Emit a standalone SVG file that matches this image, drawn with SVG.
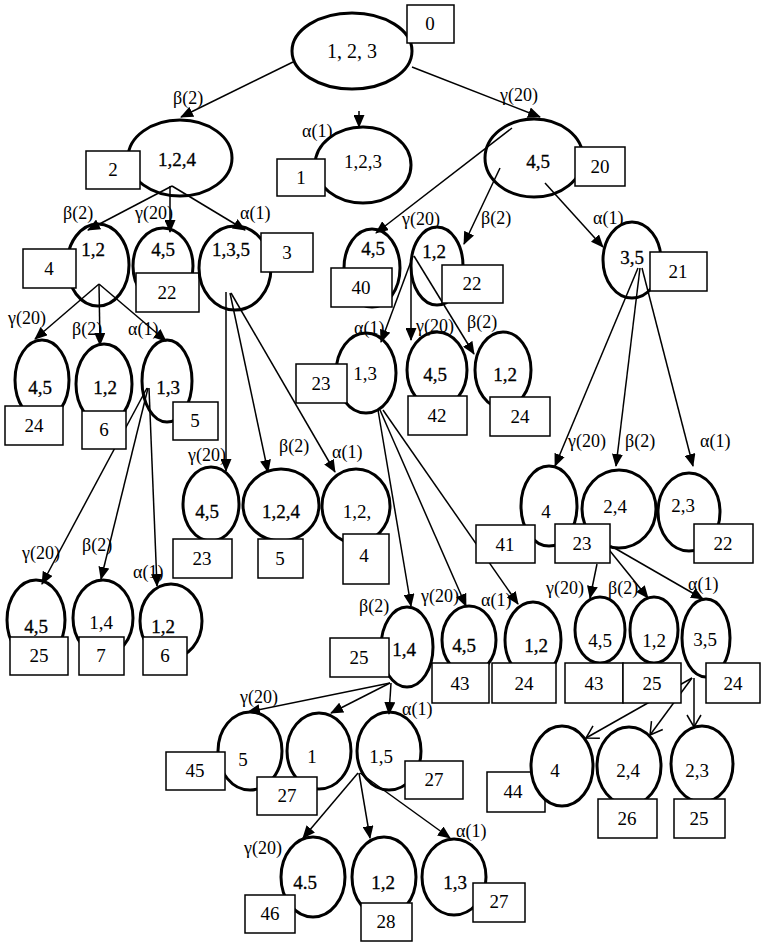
<svg xmlns="http://www.w3.org/2000/svg" width="762" height="942" viewBox="0 0 762 942">
<style>
.n{fill:none;stroke:#000;stroke-width:3}
.b{fill:#fff;stroke:#000;stroke-width:1.5}
.t{font-family:"Liberation Serif","Times New Roman","DejaVu Serif",serif;font-size:19px;text-anchor:middle;fill:#000}
.k{stroke:#000;stroke-width:0.3}
.bt{font-family:"Liberation Serif","Times New Roman","DejaVu Serif",serif;font-size:19px;text-anchor:middle;fill:#000}
.l{font-family:"Liberation Serif","Times New Roman","DejaVu Serif",serif;font-size:18px;fill:#000}
.c{stroke:#000;stroke-width:1.5;fill:none;marker-end:url(#ah)}
.o{stroke:#000;stroke-width:1.5;fill:none;marker-end:url(#oh)}
</style>
<defs>
<marker id="ah" markerUnits="userSpaceOnUse" markerWidth="13" markerHeight="11" refX="12" refY="5.5" orient="auto"><path d="M0,0 L13,5.5 L0,11 z" fill="#000"/></marker>
<marker id="oh" markerUnits="userSpaceOnUse" markerWidth="16" markerHeight="16" refX="13" refY="8" orient="auto"><path d="M1,1 L13,8 L1,15" fill="none" stroke="#000" stroke-width="1.5"/></marker>
</defs>
<rect width="762" height="942" fill="#fff"/>
<g id="connectors">
<line class="c" x1="293" y1="62" x2="181" y2="117"/><text class="l" x="173" y="104">β(2)</text>
<line class="c" x1="412" y1="67" x2="540" y2="117"/><text class="l" x="500" y="101">γ(20)</text>
<line class="c" x1="359" y1="111" x2="359" y2="127"/><text class="l" x="302" y="137">α(1)</text>
<line class="c" x1="172" y1="186" x2="88" y2="230"/><text class="l" x="63" y="219">β(2)</text>
<line class="c" x1="170" y1="186" x2="170" y2="232"/><text class="l" x="135" y="219">γ(20)</text>
<line class="c" x1="172" y1="186" x2="245" y2="230"/><text class="l" x="240" y="219">α(1)</text>
<line class="c" x1="512" y1="128" x2="376" y2="233"/><text class="l" x="402" y="225">γ(20)</text>
<line class="c" x1="500" y1="168" x2="464" y2="244"/><text class="l" x="481" y="224">β(2)</text>
<line class="c" x1="545" y1="183" x2="603" y2="247"/><text class="l" x="593" y="224">α(1)</text>
<line class="c" x1="99" y1="284" x2="35" y2="339"/><text class="l" x="8" y="324">γ(20)</text>
<line class="c" x1="99" y1="284" x2="100" y2="345"/><text class="l" x="72" y="335">β(2)</text>
<line class="c" x1="99" y1="284" x2="166" y2="341"/><text class="l" x="128" y="335">α(1)</text>
<line class="c" x1="226" y1="292" x2="226" y2="471"/><text class="l" x="188" y="461">γ(20)</text>
<line class="c" x1="230" y1="293" x2="268" y2="472"/><text class="l" x="279" y="452">β(2)</text>
<line class="c" x1="231" y1="293" x2="335" y2="472"/><text class="l" x="332" y="458">α(1)</text>
<line class="c" x1="413" y1="256" x2="381" y2="342"/><text class="l" x="354" y="334">α(1)</text>
<line class="c" x1="411" y1="258" x2="411" y2="340"/><text class="l" x="416" y="332">γ(20)</text>
<line class="c" x1="414" y1="256" x2="474" y2="354"/><text class="l" x="467" y="328">β(2)</text>
<line class="c" x1="638" y1="268" x2="555" y2="466"/><text class="l" x="568" y="447">γ(20)</text>
<line class="c" x1="640" y1="268" x2="616" y2="466"/><text class="l" x="625" y="447">β(2)</text>
<line class="c" x1="642" y1="268" x2="693" y2="466"/><text class="l" x="700" y="447">α(1)</text>
<line class="c" x1="147" y1="388" x2="42" y2="584"/><text class="l" x="22" y="559">γ(20)</text>
<line class="c" x1="148" y1="388" x2="101" y2="579"/><text class="l" x="82" y="551">β(2)</text>
<line class="c" x1="149" y1="388" x2="157" y2="586"/><text class="l" x="133" y="578">α(1)</text>
<line class="c" x1="378" y1="410" x2="411" y2="606"/><text class="l" x="359" y="612">β(2)</text>
<line class="c" x1="380" y1="410" x2="466" y2="606"/><text class="l" x="421" y="602">γ(20)</text>
<line class="c" x1="383" y1="410" x2="518" y2="604"/><text class="l" x="481" y="606">α(1)</text>
<line class="c" x1="597" y1="564" x2="590" y2="598"/><text class="l" x="546" y="594">γ(20)</text>
<line class="c" x1="606" y1="546" x2="648" y2="598"/><text class="l" x="608" y="594">β(2)</text>
<line class="c" x1="611" y1="546" x2="703" y2="599"/><text class="l" x="688" y="590">α(1)</text>
<line class="o" x1="692" y1="678" x2="586" y2="738"/>
<line class="o" x1="692" y1="678" x2="650" y2="735"/>
<line class="o" x1="694" y1="678" x2="694" y2="727"/>
<line class="c" x1="390" y1="683" x2="248" y2="712"/><text class="l" x="240" y="703">γ(20)</text>
<line class="c" x1="390" y1="683" x2="331" y2="713"/>
<line class="c" x1="391" y1="683" x2="389" y2="714"/><text class="l" x="402" y="715">α(1)</text>
<line class="c" x1="358" y1="773" x2="303" y2="838"/><text class="l" x="244" y="854">γ(20)</text>
<line class="c" x1="359" y1="773" x2="370" y2="838"/>
<line class="c" x1="360" y1="773" x2="450" y2="838"/><text class="l" x="456" y="837">α(1)</text>
</g>
<g id="n0"><ellipse class="n" cx="352" cy="51" rx="60" ry="38"/><text class="t" style="font-size:20px" x="352" y="58">1, 2, 3</text><rect class="b" x="407" y="5" width="47" height="38"/><text class="bt" x="430" y="30">0</text></g>
<g id="n1"><ellipse class="n" cx="180" cy="158" rx="52" ry="38"/><text class="t k" x="177" y="166">1,2,4</text><rect class="b" x="86" y="151" width="54" height="38"/><text class="bt" x="113" y="176">2</text></g>
<g id="n2"><ellipse class="n" cx="363" cy="165" rx="48" ry="38"/><text class="t" x="363" y="168">1,2,3</text><rect class="b" x="277" y="159" width="48" height="37"/><text class="bt" x="301" y="184">1</text></g>
<g id="n3"><ellipse class="n" cx="534" cy="158" rx="49" ry="39"/><text class="t k" x="538" y="168">4,5</text><rect class="b" x="575" y="147" width="50" height="39"/><text class="bt" x="600" y="173">20</text></g>
<g id="n4"><ellipse class="n" cx="98" cy="265" rx="31" ry="41"/><text class="t k" x="93" y="256">1,2</text><rect class="b" x="23" y="249" width="53" height="39"/><text class="bt" x="49" y="275">4</text></g>
<g id="n5"><ellipse class="n" cx="163" cy="266" rx="30" ry="38"/><text class="t k" x="163" y="256">4,5</text><rect class="b" x="136" y="273" width="63" height="39"/><text class="bt" x="167" y="299">22</text></g>
<g id="n6"><ellipse class="n" cx="235" cy="268" rx="36" ry="42"/><text class="t k" x="231" y="256">1,3,5</text><rect class="b" x="261" y="233" width="52" height="39"/><text class="bt" x="287" y="259">3</text></g>
<g id="n7"><ellipse class="n" cx="372" cy="268" rx="28" ry="39"/><text class="t k" x="373" y="255">4,5</text><rect class="b" x="331" y="268" width="61" height="39"/><text class="bt" x="361" y="294">40</text></g>
<g id="n8"><ellipse class="n" cx="437" cy="266" rx="26" ry="39"/><text class="t k" x="434" y="258">1,2</text><rect class="b" x="442" y="265" width="61" height="38"/><text class="bt" x="472" y="290">22</text></g>
<g id="n9"><ellipse class="n" cx="632" cy="260" rx="29" ry="38"/><text class="t k" x="632" y="264">3,5</text><rect class="b" x="650" y="252" width="57" height="39"/><text class="bt" x="678" y="278">21</text></g>
<g id="n10"><ellipse class="n" cx="42" cy="380" rx="27" ry="40"/><text class="t k" x="40" y="394">4,5</text><rect class="b" x="5" y="406" width="58" height="39"/><text class="bt" x="34" y="432">24</text></g>
<g id="n11"><ellipse class="n" cx="104" cy="384" rx="28" ry="40"/><text class="t k" x="105" y="394">1,2</text><rect class="b" x="82" y="411" width="44" height="38"/><text class="bt" x="104" y="436">6</text></g>
<g id="n12"><ellipse class="n" cx="167" cy="381" rx="25" ry="41"/><text class="t k" x="168" y="394">1,3</text><rect class="b" x="173" y="402" width="45" height="38"/><text class="bt" x="195" y="427">5</text></g>
<g id="n13"><ellipse class="n" cx="366" cy="373" rx="30" ry="40"/><text class="t" x="365" y="380">1,3</text><rect class="b" x="296" y="364" width="51" height="39"/><text class="bt" x="321" y="390">23</text></g>
<g id="n14"><ellipse class="n" cx="437" cy="370" rx="30" ry="38"/><text class="t k" x="435" y="381">4,5</text><rect class="b" x="408" y="396" width="59" height="39"/><text class="bt" x="437" y="422">42</text></g>
<g id="n15"><ellipse class="n" cx="503" cy="370" rx="28" ry="38"/><text class="t k" x="505" y="381">1,2</text><rect class="b" x="490" y="397" width="60" height="39"/><text class="bt" x="520" y="423">24</text></g>
<g id="n16"><ellipse class="n" cx="211" cy="504" rx="28" ry="37"/><text class="t k" x="207" y="518">4,5</text><rect class="b" x="173" y="539" width="59" height="39"/><text class="bt" x="202" y="565">23</text></g>
<g id="n17"><ellipse class="n" cx="281" cy="505" rx="38" ry="36"/><text class="t k" x="281" y="518">1,2,4</text><rect class="b" x="258" y="539" width="45" height="39"/><text class="bt" x="280" y="565">5</text></g>
<g id="n18"><ellipse class="n" cx="356" cy="506" rx="34" ry="37"/><text class="t" x="357" y="518">1,2,</text><rect class="b" x="343" y="534" width="46" height="50"/><text class="bt" x="364" y="562">4</text></g>
<g id="n19"><ellipse class="n" cx="549" cy="506" rx="28" ry="40"/><text class="t" x="546" y="518">4</text><rect class="b" x="476" y="525" width="59" height="38"/><text class="bt" x="505" y="551">41</text></g>
<g id="n20"><ellipse class="n" cx="619" cy="509" rx="37" ry="39"/><text class="t" x="615" y="513">2,4</text><rect class="b" x="555" y="524" width="55" height="39"/><text class="bt" x="582" y="550">23</text></g>
<g id="n21"><ellipse class="n" cx="689" cy="512" rx="31" ry="39"/><text class="t" x="683" y="512">2,3</text><rect class="b" x="694" y="524" width="59" height="39"/><text class="bt" x="723" y="550">22</text></g>
<g id="n22"><ellipse class="n" cx="36" cy="620" rx="29" ry="40"/><text class="t k" x="36" y="633">4,5</text><rect class="b" x="10" y="637" width="58" height="38"/><text class="bt" x="39" y="662">25</text></g>
<g id="n23"><ellipse class="n" cx="103" cy="618" rx="30" ry="38"/><text class="t" x="101" y="629">1,4</text><rect class="b" x="79" y="637" width="45" height="38"/><text class="bt" x="101" y="662">7</text></g>
<g id="n24"><ellipse class="n" cx="171" cy="621" rx="31" ry="37"/><text class="t k" x="163" y="633">1,2</text><rect class="b" x="143" y="637" width="44" height="38"/><text class="bt" x="165" y="662">6</text></g>
<g id="n25"><ellipse class="n" cx="407" cy="647" rx="26" ry="40"/><text class="t k" x="404" y="656">1,4</text><rect class="b" x="330" y="638" width="59" height="39"/><text class="bt" x="359" y="664">25</text></g>
<g id="n26"><ellipse class="n" cx="469" cy="640" rx="27" ry="34"/><text class="t k" x="464" y="652">4,5</text><rect class="b" x="432" y="663" width="57" height="40"/><text class="bt" x="460" y="690">43</text></g>
<g id="n27"><ellipse class="n" cx="533" cy="640" rx="28" ry="38"/><text class="t k" x="536" y="652">1,2</text><rect class="b" x="492" y="663" width="64" height="40"/><text class="bt" x="524" y="690">24</text></g>
<g id="n28"><ellipse class="n" cx="600" cy="630" rx="25" ry="33"/><text class="t" x="600" y="647">4,5</text><rect class="b" x="565" y="663" width="58" height="40"/><text class="bt" x="594" y="690">43</text></g>
<g id="n29"><ellipse class="n" cx="654" cy="630" rx="24" ry="33"/><text class="t" x="654" y="647">1,2</text><rect class="b" x="623" y="663" width="58" height="40"/><text class="bt" x="652" y="690">25</text></g>
<g id="n30"><ellipse class="n" cx="706" cy="638" rx="24" ry="39"/><text class="t" x="705" y="646">3,5</text><rect class="b" x="706" y="663" width="54" height="40"/><text class="bt" x="733" y="690">24</text></g>
<g id="n31"><ellipse class="n" cx="250" cy="751" rx="32" ry="39"/><text class="t" x="243" y="766">5</text><rect class="b" x="166" y="752" width="59" height="38"/><text class="bt" x="195" y="777">45</text></g>
<g id="n32"><ellipse class="n" cx="319" cy="751" rx="32" ry="38"/><text class="t" x="312" y="763">1</text><rect class="b" x="257" y="777" width="60" height="38"/><text class="bt" x="287" y="802">27</text></g>
<g id="n33"><ellipse class="n" cx="389" cy="751" rx="32" ry="39"/><text class="t" x="381" y="763">1,5</text><rect class="b" x="405" y="761" width="58" height="38"/><text class="bt" x="434" y="786">27</text></g>
<g id="n34"><rect class="b" x="487" y="772" width="58" height="40"/><text class="bt" x="513" y="798">44</text><ellipse cx="562" cy="766" rx="31" ry="40" fill="#fff" stroke="none"/><ellipse class="n" cx="562" cy="766" rx="31" ry="40"/><text class="t" x="555" y="777">4</text></g>
<g id="n35"><ellipse class="n" cx="629" cy="766" rx="32" ry="39"/><text class="t" x="628" y="777">2,4</text><rect class="b" x="598" y="799" width="59" height="39"/><text class="bt" x="627" y="825">26</text></g>
<g id="n36"><ellipse class="n" cx="702" cy="764" rx="31" ry="38"/><text class="t" x="697" y="777">2,3</text><rect class="b" x="674" y="799" width="51" height="39"/><text class="bt" x="699" y="825">25</text></g>
<g id="n37"><ellipse class="n" cx="313" cy="877" rx="32" ry="40"/><text class="t k" x="305" y="889">4.5</text><rect class="b" x="245" y="895" width="50" height="38"/><text class="bt" x="270" y="920">46</text></g>
<g id="n38"><ellipse class="n" cx="384" cy="877" rx="32" ry="40"/><text class="t k" x="383" y="889">1,2</text><rect class="b" x="361" y="903" width="51" height="38"/><text class="bt" x="386" y="928">28</text></g>
<g id="n39"><ellipse class="n" cx="454" cy="877" rx="32" ry="38"/><text class="t k" x="455" y="889">1,3</text><rect class="b" x="473" y="883" width="52" height="39"/><text class="bt" x="499" y="908">27</text></g>
</svg>
